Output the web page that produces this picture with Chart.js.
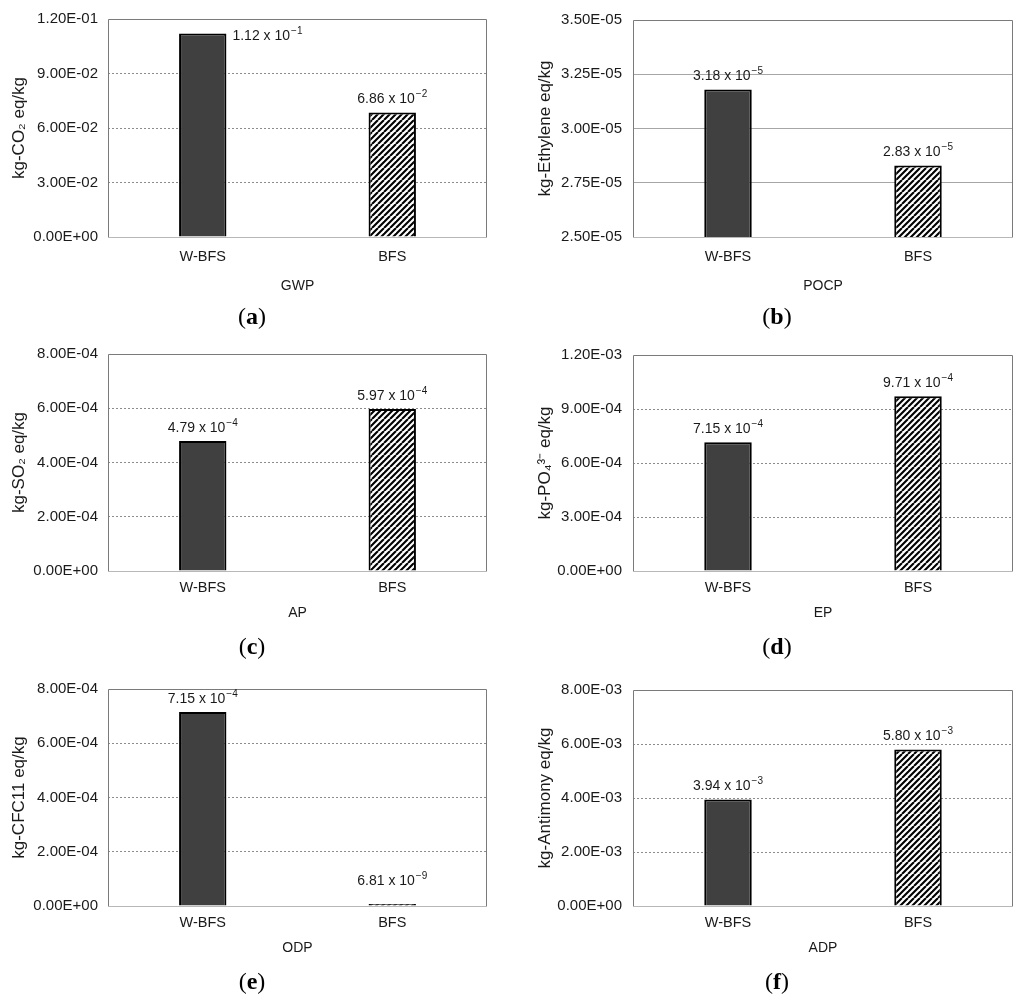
<!DOCTYPE html>
<html>
<head>
<meta charset="utf-8">
<script src="https://cdn.jsdelivr.net/npm/chart.js@4.4.0/dist/chart.umd.min.js"></script>
<style>
  body { margin: 0; background: #fff; overflow: hidden; }
  #wrap { position: relative; width: 1024px; height: 1004px; }
  .panel { position: absolute; width: 512px; height: 334px; }
</style>
</head>
<body>
<div id="wrap"></div>
<script>
const categories = ['W-BFS', 'BFS'];

const gwpValues = [0.112, 0.0686];
const pocpValues = [3.18e-5, 2.83e-5];
const apValues = [4.79e-4, 5.97e-4];
const epValues = [7.15e-4, 9.71e-4];
const odpValues = [7.15e-4, 6.81e-9];
const adpValues = [3.94e-3, 5.80e-3];

const indicators = ['GWP', 'POCP', 'AP', 'EP', 'ODP', 'ADP'];
const yTitles = ['kg-CO₂ eq/kg', 'kg-Ethylene eq/kg', 'kg-SO₂ eq/kg', 'kg-PO₄³⁻ eq/kg', 'kg-CFC11 eq/kg', 'kg-Antimony eq/kg'];
const captions = ['a', 'b', 'c', 'd', 'e', 'f'];
const axisMin = [0, 2.5e-5, 0, 0, 0, 0];
const axisMax = [0.12, 3.5e-5, 8e-4, 1.2e-3, 8e-4, 8e-3];
const axisStep = [0.03, 0.25e-5, 2e-4, 3e-4, 2e-4, 2e-3];

const seriesValues = [gwpValues, pocpValues, apValues, epValues, odpValues, adpValues];

const FONT = '"Liberation Sans", Arial, sans-serif';
const TEXT = '#1a1a1a';

// E-notation like the spreadsheet axis: 1.20E-01
function sciTick(v) {
  const [m, e] = Number(v).toExponential(2).split('e');
  const n = Math.abs(parseInt(e, 10));
  return m.toUpperCase() + 'E' + (e[0] === '-' ? '-' : '+') + String(n).padStart(2, '0');
}

function hatchPattern() {
  const c = document.createElement('canvas');
  c.width = 12; c.height = 12;
  const g = c.getContext('2d');
  g.fillStyle = '#fff';
  g.fillRect(0, 0, 12, 12);
  g.strokeStyle = '#000';
  g.lineWidth = 2.1;
  for (let k = -12; k <= 24; k += 6) {
    g.beginPath();
    g.moveTo(k, 0);
    g.lineTo(k - 12, 12);
    g.stroke();
  }
  return g.createPattern(c, 'repeat');
}

const framePlugin = {
  id: 'frame',
  beforeDatasetsDraw(chart) {
    const { ctx, chartArea: a } = chart;
    ctx.save();
    ctx.lineWidth = 1;
    ctx.strokeStyle = '#b8b8b8';
    ctx.beginPath();
    ctx.moveTo(a.left, a.bottom + 0.5);
    ctx.lineTo(a.right, a.bottom + 0.5);
    ctx.stroke();
    ctx.strokeStyle = '#7a7a7a';
    ctx.beginPath();
    ctx.moveTo(a.left + 0.5, a.bottom);
    ctx.lineTo(a.left + 0.5, a.top + 0.5);
    ctx.lineTo(a.right - 0.5, a.top + 0.5);
    ctx.lineTo(a.right - 0.5, a.bottom);
    ctx.stroke();
    ctx.restore();
  }
};

function drawSci(ctx, value, x, y, align) {
  const [m, e] = value.toExponential(2).split('e');
  const base = m + ' x 10';
  const exp = (e[0] === '-' ? '−' : '') + e.replace(/^[+-]/, '');
  ctx.font = '14px ' + FONT;
  const wb = ctx.measureText(base).width;
  ctx.font = '10px ' + FONT;
  const we = ctx.measureText(exp).width;
  const x0 = align === 'left' ? x : x - (wb + 1 + we) / 2;
  ctx.fillStyle = TEXT;
  ctx.textAlign = 'left';
  ctx.textBaseline = 'middle';
  ctx.font = '14px ' + FONT;
  ctx.fillText(base, x0, y);
  ctx.font = '10px ' + FONT;
  ctx.fillText(exp, x0 + wb + 1, y - 5);
}

const valueLabelPlugin = {
  id: 'valueLabels',
  afterDatasetsDraw(chart) {
    const { ctx, chartArea: a } = chart;
    const values = chart.data.datasets[0].data;
    const bars = chart.getDatasetMeta(0).data;
    ctx.save();
    bars.forEach((bar, i) => {
      let y = Math.min(bar.y - 13, bar.base - 24);
      if (y - 7 < a.top) {
        // no room above the bar: put it beside the top
        drawSci(ctx, values[i], bar.x + bar.width / 2 + 6, bar.y + 3, 'left');
      } else {
        drawSci(ctx, values[i], bar.x, y, 'center');
      }
    });
    ctx.restore();
  }
};

const captionPlugin = {
  id: 'caption',
  afterDraw(chart, args, opts) {
    const ctx = chart.ctx;
    ctx.save();
    ctx.fillStyle = '#000';
    ctx.textBaseline = 'middle';
    ctx.textAlign = 'left';
    const reg = '24px "Liberation Serif", "Times New Roman", serif';
    const bold = 'bold ' + reg;
    ctx.font = reg;
    const wp = ctx.measureText('(').width;
    const wq = ctx.measureText(')').width;
    ctx.font = bold;
    const wl = ctx.measureText(opts.text).width;
    let x = opts.x - (wp + wl + wq) / 2;
    ctx.font = reg;
    ctx.fillText('(', x, opts.y);
    ctx.font = bold;
    ctx.fillText(opts.text, x + wp, opts.y);
    ctx.font = reg;
    ctx.fillText(')', x + wp + wl, opts.y);
    ctx.restore();
  }
};

const wrap = document.getElementById('wrap');
const hatch = hatchPattern();

seriesValues.forEach((values, i) => {
  const col = i % 2;
  const row = Math.floor(i / 2);
  const plotBottom = row === 0 ? 237 : 236;
  const solidGrid = i === 1;

  const div = document.createElement('div');
  div.className = 'panel';
  div.style.left = (col * 512) + 'px';
  div.style.top = (row * 335) + 'px';
  const canvas = document.createElement('canvas');
  canvas.width = 512;
  canvas.height = 334;
  div.appendChild(canvas);
  wrap.appendChild(div);

  new Chart(canvas.getContext('2d'), {
    type: 'bar',
    data: {
      labels: categories,
      datasets: [{
        data: values,
        backgroundColor: ['#404040', hatch],
        borderColor: '#000',
        borderWidth: 2,
        barPercentage: 0.5,
        categoryPercentage: 0.5,
        minBarLength: 2
      }]
    },
    options: {
      responsive: false,
      animation: false,
      layout: { padding: { left: 0, top: 17, right: col ? 11 : 25, bottom: 0 } },
      plugins: {
        legend: { display: false },
        tooltip: { enabled: false },
        caption: { text: captions[i], x: col ? 265 : 252, y: row === 0 ? 318 : 313 }
      },
      scales: {
        x: {
          grid: { display: false, drawTicks: false },
          border: { display: false },
          ticks: { color: TEXT, font: { family: FONT, size: 14.5 }, padding: row === 0 ? 11 : 8 },
          title: {
            display: true,
            text: indicators[i],
            color: TEXT,
            font: { family: FONT, size: 14 },
            padding: { top: 0, bottom: row === 0 ? 39 : 47 }
          },
          afterFit: s => { s.height = 334 - plotBottom; }
        },
        y: {
          min: axisMin[i],
          max: axisMax[i],
          grid: {
            drawTicks: false,
            lineWidth: 1,
            color: c => (c.index === 0 || c.index === c.scale.ticks.length - 1) ? 'rgba(0,0,0,0)' : (solidGrid ? '#a6a6a6' : '#8c8c8c')
          },
          border: { display: false, dash: solidGrid ? [] : [2, 2] },
          ticks: {
            stepSize: axisStep[i],
            color: TEXT,
            font: { family: FONT, size: 15 },
            padding: col ? 11 : 10,
            callback: v => sciTick(v)
          },
          title: {
            display: true,
            text: yTitles[i],
            color: TEXT,
            font: { family: FONT, size: 17 },
            padding: { top: col ? 23 : 9, bottom: 0 }
          },
          afterFit: s => { s.width = col ? 121 : 108; }
        }
      }
    },
    plugins: [framePlugin, valueLabelPlugin, captionPlugin]
  });
});
</script>
</body>
</html>
